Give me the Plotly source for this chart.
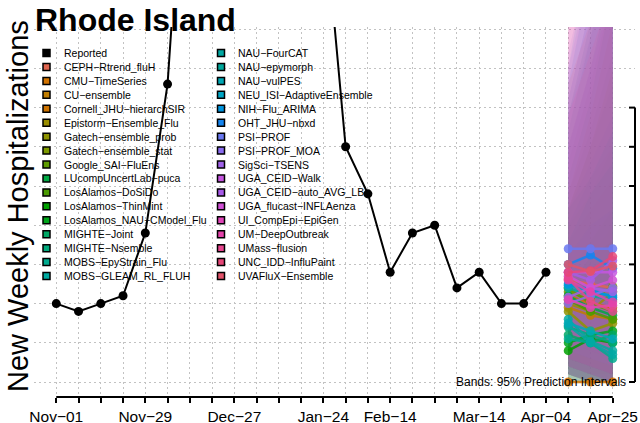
import plotly.graph_objects as go

# ---------------- data ----------------
week_dates = ["2025-11-01", "2025-11-08", "2025-11-15", "2025-11-22", "2025-11-29",
              "2025-12-06", "2025-12-13", "2025-12-20", "2025-12-27", "2026-01-03",
              "2026-01-10", "2026-01-17", "2026-01-24", "2026-01-31", "2026-02-07",
              "2026-02-14", "2026-02-21", "2026-02-28", "2026-03-07", "2026-03-14",
              "2026-03-21", "2026-03-28", "2026-04-04", "2026-04-11", "2026-04-18",
              "2026-04-25"]
tick_labels = {"2025-11-01": "Nov−01", "2025-11-29": "Nov−29", "2025-12-27": "Dec−27",
               "2026-01-24": "Jan−24", "2026-02-14": "Feb−14", "2026-03-14": "Mar−14",
               "2026-04-04": "Apr−04", "2026-04-25": "Apr−25"}

reported_dates = week_dates[:23]
reported_values = [10, 9, 10, 11, 19, 38, 80, 120, 150, 135, 105, 80, 61,
                   30, 24, 14, 19, 20, 12, 14, 10, 10, 14]

forecast_dates = ["2026-04-11", "2026-04-18", "2026-04-25"]

models = ["CEPH−Rtrend_fluH", "CMU−TimeSeries", "CU−ensemble", "Cornell_JHU−hierarchSIR",
          "Epistorm−Ensemble_Flu", "Gatech−ensemble_prob", "Gatech−ensemble_stat",
          "Google_SAI−FluEns", "LUcompUncertLab−puca", "LosAlamos−DoSiDo",
          "LosAlamos−ThinMint", "LosAlamos_NAU−CModel_Flu", "MIGHTE−Joint",
          "MIGHTE−Nsemble", "MOBS−EpyStrain_Flu", "MOBS−GLEAM_RL_FLUH",
          "NAU−FourCAT", "NAU−epymorph", "NAU−vulPES", "NEU_ISI−AdaptiveEnsemble",
          "NIH−Flu_ARIMA", "OHT_JHU−nbxd", "PSI−PROF", "PSI−PROF_MOA", "SigSci−TSENS",
          "UGA_CEID−Walk", "UGA_CEID−auto_AVG_LB", "UGA_flucast−INFLAenza",
          "UI_CompEpi−EpiGen", "UM−DeepOutbreak", "UMass−flusion",
          "UNC_IDD−InfluPaint", "UVAFluX−Ensemble"]

model_colors = ["#E0654F", "#D27300", "#C07D00", "#CC7200", "#9A8E00", "#8E9300",
                "#7D9A00", "#5E9C00", "#00A843", "#4A9B00", "#00A000", "#00A51A",
                "#00A866", "#00A97C", "#00AA8E", "#00AAA0", "#00A9A3", "#00A99D",
                "#00A8B5", "#00A6C6", "#0094DE", "#1485F0", "#6A78F0", "#8A6CF0",
                "#A062E8", "#C656E0", "#A75AE8", "#D050D5", "#E045B8", "#E442AA",
                "#E8468F", "#E64677", "#E2536A"]

median_h1 = [13, 0, 9.5, 11, 10, 9, 11.5, 12, 11, 10.5, 4, 5, 6, 7, 5.5, 8, 7.2,
             12, 7.5, 12.3, 12.5, 15, 17, 10, 10.8, 14, 14, 13.5, 10.5, 13, 13.2, 14, 15]
median_h2 = [12.5, 0, 8.5, 10, 9, 6.5, 10.5, 10, 9.5, 9, 5.5, 6, 5, 6, 5, 5.2, 5,
             11, 6.5, 11.5, 11.8, 16.2, 17, 11, 12, 14, 13, 12, 9.5, 11.5, 10.3, 14.2, 14.1]
median_h3 = [12, 0, 8, 9.5, 11.5, 7.5, 12.2, 9, 8.5, 8, 5, 6.5, 6, 5, 3, 4, 3.5,
             10.5, 5.5, 11, 10.8, 14.5, 17, 12, 11.5, 14, 15.5, 13, 9.8, 10.2, 9, 16, 14.8]

lower_h1 = [3, 0, 1, 2, 2, 1, 3, 2, 1, 2, 0, 0, 1, 1, 0, 1, 0, 3, 1, 2, 3, 4, 5,
            1, 2, 3, 2, 1, 1, 0, 2, 1, 3]
lower_h2 = [2, 0, 0, 1, 1, 0, 2, 1, 0, 1, 0, 0, 0, 0, 0, 0, 0, 2, 0, 1, 2, 3, 4,
            0, 1, 2, 1, 0, 0, 0, 1, 0, 2]
lower_h3 = [1, 0, 0, 0, 1, 0, 1, 0, 0, 0, 0, 0, 0, 0, 0, 0, 0, 1, 0, 0, 1, 2, 3,
            0, 0, 1, 0, 0, 0, 0, 0, 0, 1]
upper_h1 = [28, 12, 22, 24, 22, 18, 22, 24, 26, 20, 12, 14, 18, 20, 16, 22, 30,
            34, 32, 36, 38, 40, 42, 34, 30, 36, 40, 46, 48, 60, 34, 70, 38]
upper_h2 = [38, 16, 30, 34, 30, 22, 26, 32, 36, 24, 16, 18, 24, 26, 20, 28, 40,
            46, 44, 48, 52, 56, 54, 44, 40, 48, 52, 56, 50, 54, 42, 60, 46]
upper_h3 = [50, 20, 40, 46, 38, 26, 30, 42, 50, 28, 18, 22, 30, 32, 22, 34, 52,
            60, 56, 62, 66, 72, 64, 54, 50, 60, 66, 68, 52, 48, 50, 50, 54]

# ---------------- layout geometry (pixels) ----------------
W, H = 640, 423
ML, MR, MT, MB = 34, 5, 27, 26
PW, PH = W - ML - MR, H - MT - MB


def px(xp):
    return (xp - ML) / PW


def py(yp):
    return (H - MB - yp) / PH


def rgba(hex_color, a):
    h = hex_color.lstrip("#")
    r, g, b = int(h[0:2], 16), int(h[2:4], 16), int(h[4:6], 16)
    return f"rgba({r},{g},{b},{a})"


fig = go.Figure()

# prediction bands
for i, name in enumerate(models):
    lo = [lower_h1[i], lower_h2[i], lower_h3[i]]
    up = [upper_h1[i], upper_h2[i], upper_h3[i]]
    fig.add_trace(go.Scatter(
        x=forecast_dates + forecast_dates[::-1],
        y=lo + up[::-1],
        fill="toself", fillcolor=rgba(model_colors[i], 0.1),
        line=dict(width=0), mode="lines", hoverinfo="skip", showlegend=False))

# reported
fig.add_trace(go.Scatter(
    x=reported_dates, y=reported_values, mode="lines+markers",
    line=dict(color="black", width=2),
    marker=dict(color="black", size=9), name="Reported", showlegend=False))

# medians
for i, name in enumerate(models):
    fig.add_trace(go.Scatter(
        x=forecast_dates, y=[median_h1[i], median_h2[i], median_h3[i]],
        mode="lines+markers",
        line=dict(color=rgba(model_colors[i], 0.85), width=2.5),
        marker=dict(color=rgba(model_colors[i], 0.85), size=9),
        name=name, showlegend=False))

y_lo = -15 / 7.84
y_hi = y_lo + PH / 7.84

grid_style = dict(showgrid=True, gridcolor="#C2C2C2", griddash="2px,3px", gridwidth=1)

fig.update_layout(
    width=W, height=H,
    margin=dict(l=ML, r=MR, t=MT, b=MB, pad=0, autoexpand=False),
    paper_bgcolor="white", plot_bgcolor="white",
    showlegend=False,
    font=dict(family="Liberation Sans, Arial, sans-serif", color="black"),
    xaxis=dict(
        type="date", automargin=False,
        range=["2025-10-25", "2026-05-02"],
        tickvals=week_dates,
        ticktext=[tick_labels.get(d, "") for d in week_dates],
        ticks="outside", ticklen=5, tickwidth=2, tickcolor="black",
        tickfont=dict(size=15.5), ticklabelstandoff=0,
        showline=False, zeroline=False, tickangle=0, **grid_style,
    ),
    yaxis=dict(
        automargin=False,
        range=[y_lo, y_hi],
        tickvals=[0, 5, 10, 15, 20, 25, 30, 35, 40, 45],
        showticklabels=False, ticks="",
        showline=False, zeroline=False, **grid_style,
    ),
)

shapes = []
# x axis line from first to last tick
shapes.append(dict(type="line", xref="x", yref="paper", x0=week_dates[0], x1=week_dates[-1],
                   y0=0, y1=0, line=dict(color="black", width=2)))
# right axis with inward ticks
shapes.append(dict(type="line", xref="paper", yref="y", x0=1, x1=1, y0=0, y1=35,
                   line=dict(color="black", width=2)))
for v in [0, 5, 10, 15, 20, 25, 30, 35]:
    shapes.append(dict(type="line", xref="paper", yref="y", x0=1 - 6 / PW, x1=1,
                       y0=v, y1=v, line=dict(color="black", width=2)))

annotations = []
# legend (two columns)
legend_col1 = ["Reported"] + models[:16]
legend_col1_colors = ["#000000"] + model_colors[:16]
legend_col2 = models[16:]
legend_col2_colors = model_colors[16:]
row0, row_step = 53, 13.94
for col_items, col_colors, box_x, text_x in [
        (legend_col1, legend_col1_colors, 46.5, 62),
        (legend_col2, legend_col2_colors, 221, 236)]:
    for r, (lab, colr) in enumerate(zip(col_items, col_colors)):
        yc = row0 + r * row_step
        shapes.append(dict(type="rect", xref="paper", yref="paper",
                           x0=px(box_x - 3.5), x1=px(box_x + 3.5),
                           y0=py(yc + 3.5), y1=py(yc - 3.5),
                           fillcolor=colr, line=dict(color="black", width=1.5)))
        annotations.append(dict(text=lab, xref="paper", yref="paper",
                                x=px(text_x), y=py(yc), xanchor="left", yanchor="middle",
                                showarrow=False, font=dict(size=10.5)))

# title
annotations.append(dict(text="<b>Rhode Island</b>", xref="paper", yref="paper",
                        x=px(33), y=py(0), xanchor="left", yanchor="top",
                        showarrow=False, font=dict(size=32)))
# y axis title
annotations.append(dict(text="New Weekly Hospitalizations", xref="paper", yref="paper",
                        x=px(18), y=py(206), xanchor="center", yanchor="middle",
                        textangle=-90, showarrow=False, font=dict(size=29)))
# band note
annotations.append(dict(text="Bands: 95% Prediction Intervals", xref="paper", yref="paper",
                        x=px(628), y=py(382), xanchor="right", yanchor="middle",
                        showarrow=False, font=dict(size=12)))

fig.update_layout(shapes=shapes, annotations=annotations)
fig.write_html("out.html", config={"displayModeBar": False},
               post_script="document.body.style.margin='0';document.body.style.overflow='hidden';")
